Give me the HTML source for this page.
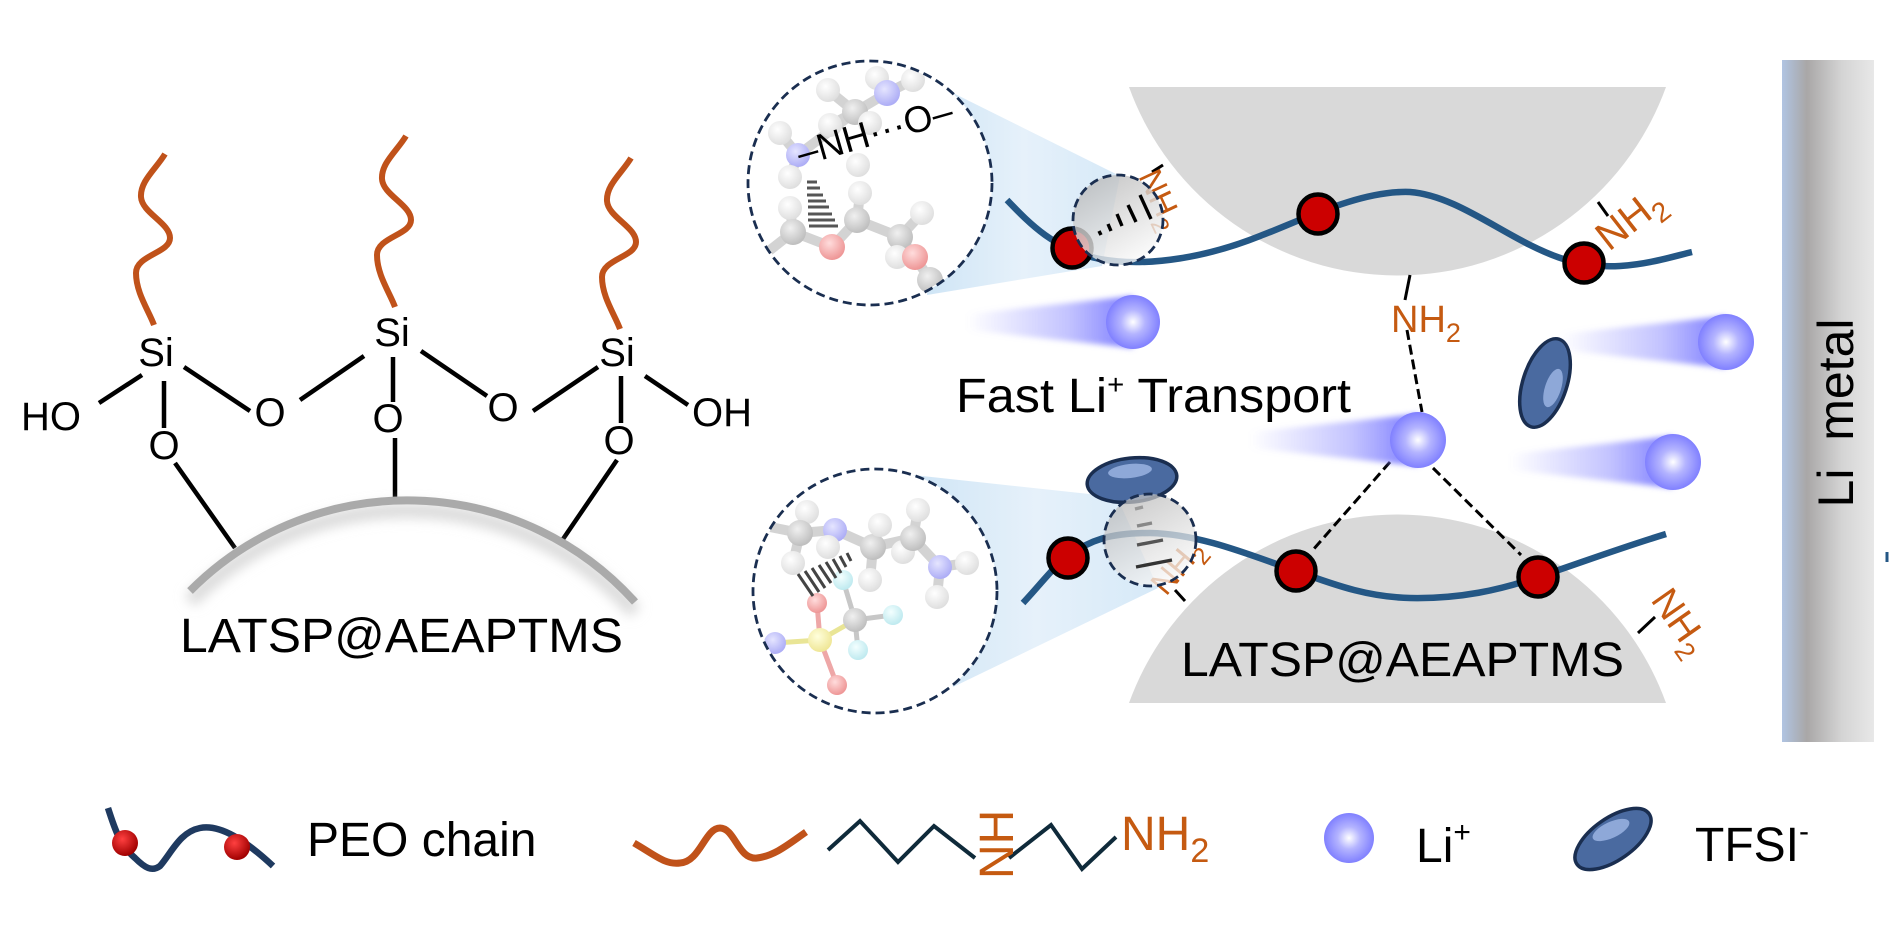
<!DOCTYPE html>
<html><head><meta charset="utf-8"><style>
html,body{margin:0;padding:0;background:#fff;}
svg{display:block;font-family:"Liberation Sans",Arial,sans-serif;}
</style></head><body>
<svg width="1890" height="945" viewBox="0 0 1890 945" xmlns="http://www.w3.org/2000/svg">
<defs>
  <radialGradient id="li" cx="50%" cy="50%" r="50%"><stop offset="0" stop-color="#ffffff"/><stop offset="0.45" stop-color="#b4b4ff"/><stop offset="1" stop-color="#8080ff"/></radialGradient>
  <linearGradient id="tail" x1="0" y1="0" x2="1" y2="0"><stop offset="0" stop-color="#8a8aff" stop-opacity="0"/><stop offset="0.6" stop-color="#8a8aff" stop-opacity="0.5"/><stop offset="1" stop-color="#7070ff" stop-opacity="0.95"/></linearGradient>
  <filter id="blur3" x="-20%" y="-50%" width="140%" height="200%"><feGaussianBlur stdDeviation="3"/></filter>
  <filter id="blur6" x="-20%" y="-50%" width="140%" height="200%"><feGaussianBlur stdDeviation="6"/></filter>
  <linearGradient id="metal" x1="0" y1="0" x2="1" y2="0"><stop offset="0" stop-color="#b0c4e2"/><stop offset="0.27" stop-color="#a9a7a7"/><stop offset="0.65" stop-color="#d4d4d4"/><stop offset="1" stop-color="#e8e8e8"/></linearGradient>
  <linearGradient id="smallc" x1="0" y1="0" x2="0.6" y2="1"><stop offset="0" stop-color="#b0b0b0"/><stop offset="1" stop-color="#f8f8f8"/></linearGradient>
  <linearGradient id="cone" x1="0" y1="0" x2="1" y2="0"><stop offset="0" stop-color="#cfe5f6"/><stop offset="0.5" stop-color="#e6f1fa"/><stop offset="1" stop-color="#d6e9f8"/></linearGradient>
  <radialGradient id="gH" cx="40%" cy="35%" r="65%"><stop offset="0" stop-color="#ffffff"/><stop offset="1" stop-color="#c4c4c4"/></radialGradient>
  <radialGradient id="gC" cx="40%" cy="35%" r="65%"><stop offset="0" stop-color="#e4e4e4"/><stop offset="1" stop-color="#8a8a8a"/></radialGradient>
  <radialGradient id="gN" cx="40%" cy="35%" r="65%"><stop offset="0" stop-color="#d0d0ff"/><stop offset="1" stop-color="#6a6aee"/></radialGradient>
  <radialGradient id="gO" cx="40%" cy="35%" r="65%"><stop offset="0" stop-color="#ffc0c0"/><stop offset="1" stop-color="#e04040"/></radialGradient>
  <radialGradient id="gF" cx="40%" cy="35%" r="65%"><stop offset="0" stop-color="#eaffff"/><stop offset="1" stop-color="#8ad8e2"/></radialGradient>
  <radialGradient id="gS" cx="40%" cy="35%" r="65%"><stop offset="0" stop-color="#ffffc0"/><stop offset="1" stop-color="#e2d240"/></radialGradient>
  <radialGradient id="redball" cx="40%" cy="35%" r="65%"><stop offset="0" stop-color="#ff4040"/><stop offset="1" stop-color="#a00000"/></radialGradient>
  <clipPath id="clipTop"><circle cx="870" cy="183" r="121"/></clipPath>
  <clipPath id="clipBot"><circle cx="875" cy="591" r="121"/></clipPath>
</defs>

<!-- ============ LEFT PANEL ============ -->
<g fill="none" stroke="#c0521a" stroke-width="6">
  <path transform="translate(154,325)" d="M11,-171 C2,-156 -14,-144 -13,-128 C-12,-112 16,-102 16,-87 C16,-72 -18,-70 -18,-52 C-18,-32 -5,-14 0,0"/>
  <path transform="translate(395,307)" d="M11,-171 C2,-156 -14,-144 -13,-128 C-12,-112 16,-102 16,-87 C16,-72 -18,-70 -18,-52 C-18,-32 -5,-14 0,0"/>
  <path transform="translate(620,329)" d="M11,-171 C2,-156 -14,-144 -13,-128 C-12,-112 16,-102 16,-87 C16,-72 -18,-70 -18,-52 C-18,-32 -5,-14 0,0"/>
</g>
<g stroke="#000" stroke-width="4.5" fill="none">
  <line x1="99" y1="403" x2="142" y2="375"/>
  <line x1="184" y1="367" x2="250" y2="411"/>
  <line x1="300" y1="400" x2="364" y2="356"/>
  <line x1="421" y1="351" x2="487" y2="396"/>
  <line x1="533" y1="411" x2="598" y2="367"/>
  <line x1="645" y1="376" x2="688" y2="405"/>
  <line x1="164" y1="381" x2="164" y2="428"/>
  <line x1="393" y1="357" x2="393" y2="402"/>
  <line x1="621" y1="376" x2="621" y2="423"/>
  <line x1="175" y1="463" x2="235" y2="548"/>
  <line x1="395" y1="438" x2="395" y2="499"/>
  <line x1="617" y1="460" x2="561" y2="542"/>
</g>
<path d="M190,601 A306,306 0 0 1 635,612" fill="none" stroke="#d8d8d8" stroke-width="14" filter="url(#blur6)"/>
<path d="M190,591 A306,306 0 0 1 635,602" fill="none" stroke="#aaaaaa" stroke-width="8"/>
<g font-size="40" fill="#000" text-anchor="middle">
  <text x="156" y="366">Si</text>
  <text x="392" y="346">Si</text>
  <text x="617" y="366">Si</text>
  <text x="51" y="430">HO</text>
  <text x="270" y="426">O</text>
  <text x="388" y="432">O</text>
  <text x="503" y="421">O</text>
  <text x="722" y="426">OH</text>
  <text x="164" y="459">O</text>
  <text x="619" y="454">O</text>
</g>
<text x="180" y="652" font-size="48" textLength="443" lengthAdjust="spacingAndGlyphs">LATSP@AEAPTMS</text>

<!-- ============ RIGHT PANEL ============ -->
<path d="M1129,87 L1666,87 A285.5,285.5 0 0 1 1129,87 Z" fill="#d9d9d9"/>
<path d="M1129,703 L1666,703 A285.5,285.5 0 0 0 1129,703 Z" fill="#d9d9d9"/>

<polygon points="947,90 1120,176 1102,266 927,295" fill="url(#cone)"/>
<polygon points="913,475 1117,497 1158,588 953,687" fill="url(#cone)"/>

<g fill="none" stroke="#245785" stroke-width="6.5">
  <path d="M1007,200 C1030,224 1055,250 1100,259 C1150,268 1210,256 1260,236 C1300,221 1360,190 1410,192 C1450,195 1490,225 1530,245 C1560,260 1585,268 1620,266 C1650,264 1675,256 1692,252"/>
  <path d="M1023,603 C1040,585 1055,565 1068,556 C1090,540 1110,533 1150,533 C1200,534 1250,555 1296,571 C1340,587 1370,597 1410,598 C1460,599 1500,590 1538,577 C1580,563 1620,548 1666,534"/>
</g>

<g stroke="#000" stroke-width="3" fill="none">
  <line x1="1410" y1="275" x2="1405" y2="300"/>
  <line x1="1407" y1="330" x2="1422" y2="412" stroke-dasharray="10 5"/>
  <line x1="1390" y1="462" x2="1312" y2="551" stroke-dasharray="10 5"/>
  <line x1="1433" y1="468" x2="1521" y2="555" stroke-dasharray="10 5"/>
  <line x1="1598" y1="202" x2="1608" y2="216"/>
  <line x1="1638" y1="633" x2="1655" y2="617"/>
  <line x1="1152" y1="172" x2="1163" y2="165"/>
  <line x1="1175" y1="590" x2="1185" y2="601"/>
</g>

<g fill="#c55a11" font-size="36">
  <text x="1391" y="332" font-size="38">NH<tspan font-size="27" dy="10">2</tspan></text>
  <text transform="translate(1609,252) rotate(-38)" font-size="40">NH<tspan font-size="28" dy="10">2</tspan></text>
  <text transform="translate(1650,600) rotate(55)" font-size="38">NH<tspan font-size="27" dy="10">2</tspan></text>
  <text font-size="33" transform="translate(1138,176) rotate(65)">NH<tspan font-size="24" dy="9">2</tspan></text>
  <text font-size="33" transform="translate(1166,597) rotate(-50)">NH<tspan font-size="24" dy="9">2</tspan></text>
</g>

<g fill="#cc0000" stroke="#000" stroke-width="4.5">
  <circle cx="1072" cy="248" r="19.5"/>
  <circle cx="1318" cy="214" r="19.5"/>
  <circle cx="1584" cy="263" r="19.5"/>
  <circle cx="1068" cy="558" r="19.5"/>
  <circle cx="1296" cy="571" r="19.5"/>
  <circle cx="1538" cy="577" r="19.5"/>
</g>

<g stroke="#1a2e50" stroke-width="3.5">
  <ellipse cx="1545" cy="383" rx="22" ry="46" transform="rotate(18 1545 383)" fill="#4a6aa0"/>
  <ellipse cx="1132" cy="480" rx="45" ry="22" transform="rotate(-6 1132 480)" fill="#4a6aa0"/>
</g>
<ellipse cx="1553" cy="388" rx="8" ry="20" transform="rotate(18 1553 388)" fill="#8ea8d8"/>
<ellipse cx="1130" cy="471" rx="22" ry="7" transform="rotate(-6 1130 471)" fill="#8ea8d8"/>

<g filter="url(#blur3)">
  <polygon points="967,314 1133,296 1133,348 967,330" fill="url(#tail)"/>
  <polygon points="1560,334 1726,316 1726,368 1560,350" fill="url(#tail)"/>
  <polygon points="1250,432 1418,414 1418,466 1250,448" fill="url(#tail)"/>
  <polygon points="1510,454 1673,436 1673,488 1510,470" fill="url(#tail)"/>
</g>
<circle cx="1133" cy="322" r="27" fill="url(#li)"/>
<circle cx="1726" cy="342" r="28" fill="url(#li)"/>
<circle cx="1418" cy="440" r="28" fill="url(#li)"/>
<circle cx="1673" cy="462" r="28" fill="url(#li)"/>

<circle cx="1118" cy="220" r="45" fill="url(#smallc)" fill-opacity="0.8" stroke="#1a2e50" stroke-width="2.8" stroke-dasharray="9 5"/>
<g stroke="#000" stroke-width="3.4" stroke-linecap="butt">
  <line x1="1099" y1="231" x2="1101" y2="235"/>
  <line x1="1108" y1="224" x2="1111" y2="231"/>
  <line x1="1117" y1="214" x2="1122" y2="226"/>
  <line x1="1128" y1="205" x2="1136" y2="222"/>
  <line x1="1140" y1="195" x2="1151" y2="219"/>
</g>
<circle cx="1150" cy="540" r="46" fill="url(#smallc)" fill-opacity="0.75" stroke="#1a2e50" stroke-width="2.8" stroke-dasharray="9 5"/>
<g stroke-width="3.4">
  <line x1="1135" y1="509" x2="1143" y2="507" stroke="#999"/>
  <line x1="1137" y1="526" x2="1152" y2="523" stroke="#888"/>
  <line x1="1137" y1="545" x2="1163" y2="540" stroke="#555"/>
  <line x1="1136" y1="567" x2="1172" y2="560" stroke="#333"/>
</g>

<!-- big magnifier top -->
<circle cx="870" cy="183" r="122" fill="#fff"/>
<g clip-path="url(#clipTop)" opacity="0.55">
  <g stroke="#b0b0b0" stroke-width="10" stroke-linecap="round">
    <line x1="855" y1="112" x2="887" y2="93"/><line x1="887" y1="93" x2="913" y2="80"/><line x1="887" y1="93" x2="877" y2="78"/>
    <line x1="855" y1="112" x2="828" y2="90"/><line x1="855" y1="112" x2="830" y2="125"/><line x1="855" y1="112" x2="870" y2="123"/>
    <line x1="855" y1="112" x2="798" y2="155"/><line x1="798" y1="155" x2="780" y2="133"/><line x1="798" y1="155" x2="790" y2="177"/>
    <line x1="765" y1="254" x2="793" y2="232"/><line x1="793" y1="232" x2="832" y2="247"/><line x1="832" y1="247" x2="857" y2="220"/>
    <line x1="857" y1="220" x2="860" y2="193"/><line x1="857" y1="220" x2="900" y2="237"/><line x1="900" y1="237" x2="922" y2="213"/>
    <line x1="900" y1="237" x2="897" y2="257"/><line x1="900" y1="237" x2="915" y2="257"/><line x1="915" y1="257" x2="930" y2="280"/>
    <line x1="793" y1="232" x2="790" y2="208"/><line x1="930" y1="280" x2="950" y2="300"/>
  </g>
  <circle cx="828" cy="90" r="12" fill="url(#gH)"/><circle cx="877" cy="78" r="12" fill="url(#gH)"/><circle cx="913" cy="80" r="12" fill="url(#gH)"/>
  <circle cx="887" cy="93" r="13" fill="url(#gN)"/><circle cx="855" cy="112" r="13" fill="url(#gC)"/>
  <circle cx="830" cy="125" r="12" fill="url(#gH)"/><circle cx="870" cy="123" r="12" fill="url(#gH)"/><circle cx="780" cy="133" r="12" fill="url(#gH)"/>
  <circle cx="798" cy="155" r="12" fill="url(#gN)"/><circle cx="790" cy="177" r="12" fill="url(#gH)"/><circle cx="858" cy="165" r="12" fill="url(#gH)"/>
  <circle cx="790" cy="208" r="12" fill="url(#gH)"/><circle cx="793" cy="232" r="13" fill="url(#gC)"/><circle cx="832" cy="247" r="13" fill="url(#gO)"/>
  <circle cx="857" cy="220" r="13" fill="url(#gC)"/><circle cx="860" cy="193" r="12" fill="url(#gH)"/><circle cx="900" cy="237" r="13" fill="url(#gC)"/>
  <circle cx="922" cy="213" r="12" fill="url(#gH)"/><circle cx="897" cy="257" r="12" fill="url(#gH)"/><circle cx="915" cy="257" r="13" fill="url(#gO)"/>
  <circle cx="930" cy="280" r="13" fill="url(#gC)"/>
</g>
<g stroke="#555" stroke-width="3">
  <line x1="807" y1="182" x2="817" y2="182"/><line x1="807" y1="188" x2="820" y2="188"/><line x1="807" y1="195" x2="823" y2="195"/>
  <line x1="808" y1="201" x2="826" y2="201"/><line x1="808" y1="207" x2="829" y2="207"/><line x1="808" y1="214" x2="832" y2="214"/>
  <line x1="808" y1="220" x2="835" y2="220"/><line x1="809" y1="226" x2="838" y2="226"/>
</g>
<text transform="translate(801,166) rotate(-16)" font-size="37" fill="#000">–NH···O–</text>
<circle cx="870" cy="183" r="122" fill="none" stroke="#1a2e50" stroke-width="2.8" stroke-dasharray="9 5"/>

<!-- big magnifier bottom -->
<circle cx="875" cy="591" r="122" fill="#fff"/>
<g clip-path="url(#clipBot)" opacity="0.55">
  <g stroke="#b0b0b0" stroke-width="10" stroke-linecap="round">
    <line x1="760" y1="525" x2="800" y2="533"/><line x1="800" y1="533" x2="835" y2="530"/><line x1="835" y1="530" x2="873" y2="547"/>
    <line x1="873" y1="547" x2="913" y2="538"/><line x1="913" y1="538" x2="940" y2="567"/><line x1="940" y1="567" x2="967" y2="563"/>
    <line x1="940" y1="567" x2="937" y2="597"/><line x1="800" y1="533" x2="807" y2="512"/><line x1="800" y1="533" x2="793" y2="563"/>
    <line x1="873" y1="547" x2="880" y2="525"/><line x1="873" y1="547" x2="870" y2="580"/><line x1="913" y1="538" x2="918" y2="510"/>
    <line x1="913" y1="538" x2="903" y2="552"/>
  </g>
  <g stroke-width="5">
    <line x1="820" y1="640" x2="817" y2="603" stroke="#e06060"/><line x1="820" y1="640" x2="837" y2="685" stroke="#e06060"/>
    <line x1="820" y1="640" x2="775" y2="643" stroke="#d8d040"/><line x1="820" y1="640" x2="855" y2="620" stroke="#d8d040"/>
    <line x1="855" y1="620" x2="843" y2="580" stroke="#999"/><line x1="855" y1="620" x2="893" y2="615" stroke="#999"/><line x1="855" y1="620" x2="858" y2="650" stroke="#999"/>
  </g>
  <circle cx="807" cy="512" r="12" fill="url(#gH)"/><circle cx="800" cy="533" r="13" fill="url(#gC)"/><circle cx="835" cy="530" r="12" fill="url(#gN)"/>
  <circle cx="793" cy="563" r="12" fill="url(#gH)"/><circle cx="828" cy="547" r="12" fill="url(#gH)"/><circle cx="873" cy="547" r="13" fill="url(#gC)"/>
  <circle cx="880" cy="525" r="12" fill="url(#gH)"/><circle cx="870" cy="580" r="12" fill="url(#gH)"/><circle cx="903" cy="552" r="12" fill="url(#gH)"/>
  <circle cx="913" cy="538" r="13" fill="url(#gC)"/><circle cx="918" cy="510" r="12" fill="url(#gH)"/><circle cx="940" cy="567" r="12" fill="url(#gN)"/>
  <circle cx="967" cy="563" r="12" fill="url(#gH)"/><circle cx="937" cy="597" r="12" fill="url(#gH)"/>
  <circle cx="843" cy="580" r="10" fill="url(#gF)"/><circle cx="855" cy="620" r="12" fill="url(#gC)"/><circle cx="893" cy="615" r="10" fill="url(#gF)"/>
  <circle cx="858" cy="650" r="10" fill="url(#gF)"/><circle cx="820" cy="640" r="12" fill="url(#gS)"/><circle cx="817" cy="603" r="10" fill="url(#gO)"/>
  <circle cx="837" cy="685" r="10" fill="url(#gO)"/><circle cx="775" cy="643" r="11" fill="url(#gN)"/>
</g>
<g stroke="#444" stroke-width="3">
  <line x1="798" y1="574" x2="813" y2="596"/><line x1="805" y1="571" x2="819" y2="592"/><line x1="812" y1="568" x2="825" y2="588"/>
  <line x1="819" y1="565" x2="831" y2="583"/><line x1="826" y1="562" x2="836" y2="578"/><line x1="833" y1="559" x2="841" y2="573"/>
  <line x1="840" y1="556" x2="846" y2="567"/><line x1="847" y1="553" x2="851" y2="561"/>
</g>
<circle cx="875" cy="591" r="122" fill="none" stroke="#1a2e50" stroke-width="2.8" stroke-dasharray="9 5"/>

<text x="956" y="412" font-size="48" fill="#000" textLength="395" lengthAdjust="spacingAndGlyphs">Fast Li<tspan font-size="28" dy="-18">+</tspan><tspan dy="18"> Transport</tspan></text>
<text x="1181" y="676" font-size="48" fill="#000" textLength="443" lengthAdjust="spacingAndGlyphs">LATSP@AEAPTMS</text>

<rect x="1782" y="60" width="92" height="682" fill="url(#metal)"/>
<text transform="translate(1853,413) rotate(-90)" font-size="50" text-anchor="middle" fill="#000">Li&#160; metal</text>
<line x1="1887" y1="552" x2="1887" y2="562" stroke="#245785" stroke-width="3"/>

<!-- ============ LEGEND ============ -->
<path d="M108,808 C115,830 120,845 135,858 C145,868 152,872 160,866 C172,852 180,832 200,828 C220,824 245,840 273,866" fill="none" stroke="#1f3a60" stroke-width="6.5"/>
<circle cx="125" cy="843" r="13" fill="url(#redball)"/>
<circle cx="237" cy="847" r="13" fill="url(#redball)"/>
<text x="307" y="856" font-size="48" fill="#000">PEO chain</text>

<path d="M634,843 C655,855 665,865 680,863 C700,862 705,828 720,828 C735,828 738,860 757,858 C775,856 790,843 806,832" fill="none" stroke="#c0521a" stroke-width="7"/>
<polyline points="828,850 860,821 898,862 934,826 975,858" fill="none" stroke="#0f2a3a" stroke-width="4"/>
<polyline points="1009,858 1051,825 1082,869 1116,837" fill="none" stroke="#0f2a3a" stroke-width="4"/>
<text transform="translate(1013,879) rotate(-90)" font-size="48" fill="#c55a11">NH</text>
<text x="1121" y="850" font-size="48" fill="#c55a11">NH<tspan font-size="34" dy="12">2</tspan></text>

<circle cx="1349" cy="838" r="25" fill="url(#li)"/>
<text x="1416" y="862" font-size="48" fill="#000">Li<tspan font-size="30" dy="-20">+</tspan></text>

<ellipse cx="1613" cy="839" rx="44" ry="21" transform="rotate(-35 1613 839)" fill="#4a6aa0" stroke="#1a2e50" stroke-width="3.5"/>
<ellipse cx="1611" cy="830" rx="20" ry="8" transform="rotate(-25 1611 830)" fill="#8ea8d8"/>
<text x="1695" y="861" font-size="48" fill="#000">TFSI<tspan font-size="30" dy="-20">-</tspan></text>
</svg>
</body></html>
